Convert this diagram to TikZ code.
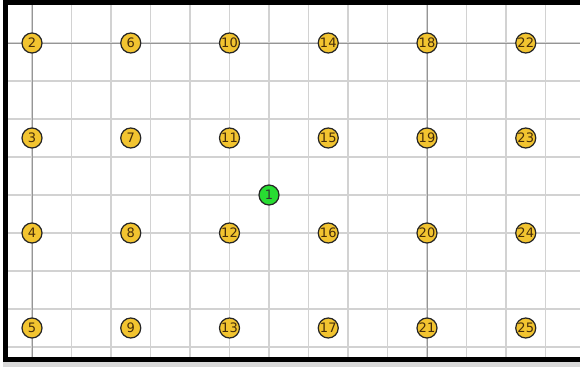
\documentclass[tikz,border=0pt]{standalone}
\usepackage{fontspec}
\setmainfont{DejaVu Sans}
\usepackage{xcolor}
\definecolor{NodeGold}{RGB}{242,196,48}
\definecolor{NodeGreen}{RGB}{40,220,50}
\definecolor{GridGray}{RGB}{210,210,210}
\definecolor{AxisGray}{RGB}{150,150,150}
\definecolor{LabelBrown}{RGB}{70,45,10}

\begin{document}
\begin{tikzpicture}[x=1pt, y=-1pt,
    sensor/.style={circle, draw=black!85, fill=NodeGold, line width=1.2pt,
                   minimum size=20pt, inner sep=0pt, text=LabelBrown,
                   font=\fontsize{13}{13}\selectfont},
    sink/.style={sensor, fill=NodeGreen, text=black!80},
    gridline/.style={GridGray, line width=1.3pt},
    axisline/.style={AxisGray, line width=1pt}]
    \useasboundingbox (0,0) rectangle (580,367);
    \fill[white] (0,0) rectangle (580,367);

    % grid
    \foreach \k in {0,...,13}
      \draw[gridline] (32+39.5*\k,5) -- (32+39.5*\k,357);
    \foreach \k in {0,...,8}
      \draw[gridline] (8,43+38*\k) -- (580,43+38*\k);
    \draw[axisline] (8,43) -- (580,43);
    \draw[axisline] (32,5) -- (32,357);
    \draw[axisline] (427,5) -- (427,357);

    % frame
    \fill[black!15] (3,362) rectangle (580,367);
    \fill[black] (3,0) rectangle (580,5);
    \fill[black] (3,0) rectangle (8,362);
    \fill[black] (3,357) rectangle (580,362);

    % sensor nodes
    \foreach \c in {0,...,5}
      \foreach \r in {0,...,3} {
        \pgfmathtruncatemacro{\id}{2+4*\c+\r}
        \node[sensor] (n\id) at (32+98.75*\c, 43+95*\r) {\id};
      }

    % sink
    \node[sink] (n1) at (269,195) {1};
\end{tikzpicture}
\end{document}
